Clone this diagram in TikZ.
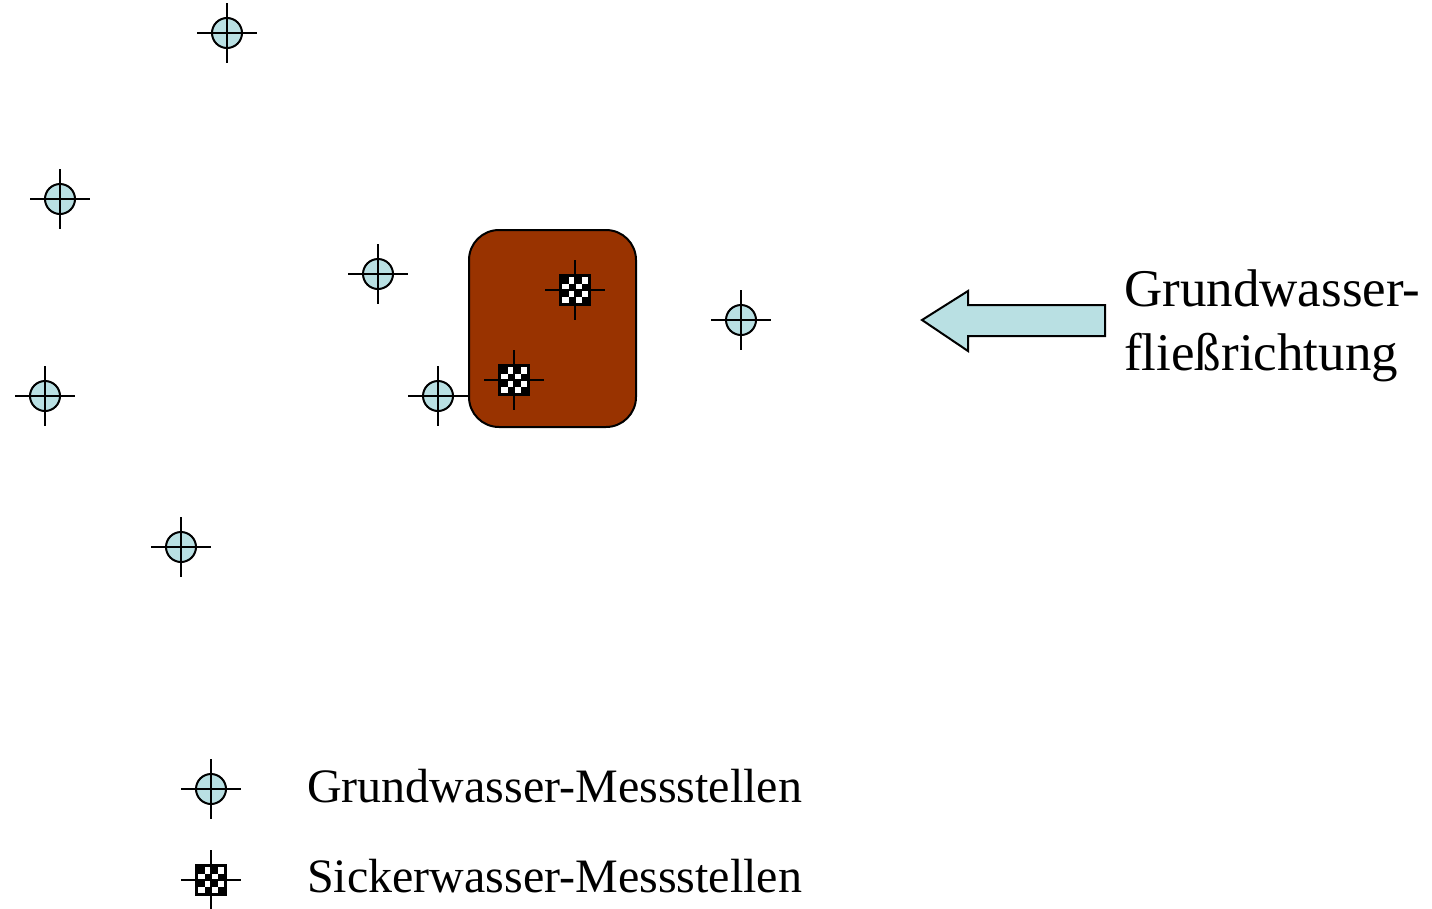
\documentclass[tikz,border=0pt]{standalone}
\usepackage{fontspec}
\setmainfont{Liberation Serif}
\definecolor{hellblau}{HTML}{B9E0E3}
\definecolor{boden}{HTML}{993300}
\tikzset{
  kreuz/.style={black, line width=2pt},
  gwpunkt/.pic={
    \draw[kreuz, fill=hellblau] (0,0) circle (15);
    \draw[kreuz] (-30,0) -- (30,0) (0,-30) -- (0,30);
  },
  swpunkt/.pic={
    \fill[black] (-16,-16) rectangle (16,16);
    \foreach \i in {0,1,2,3} \foreach \j in {0,1,2,3} {
      \pgfmathparse{int(mod(\i+\j,2))}
      \ifnum\pgfmathresult=1
        \fill[white] (-13+\i*6.5,-13+\j*6.5) rectangle ++(6.5,6.5);
      \fi
    }
    \draw[kreuz] (-30,0) -- (30,0) (0,-30) -- (0,30);
  },
  beschriftung/.style={font=\fontsize{48}{64}\selectfont, inner sep=0pt}
}
\begin{document}
\begin{tikzpicture}[x=1pt, y=-1pt]
  \useasboundingbox (0,0) rectangle (1432,908);
  % Versuchsfeld
  \draw[line width=2pt, fill=boden, rounded corners=30] (469,230) rectangle (636,427);
  % Grundwasser-Messstellen
  \foreach \x/\y in {227/33, 60/199, 378/274, 45/396, 438/396, 181/547, 741/320}
    \pic at (\x,\y) {gwpunkt};
  % Sickerwasser-Messstellen
  \pic at (575,290) {swpunkt};
  \pic at (514,380) {swpunkt};
  % Fliessrichtung
  \draw[line width=2pt, fill=hellblau] (922,320) -- (968,291) -- (968,305) -- (1105,305)
    -- (1105,336) -- (968,336) -- (968,351) -- cycle;
  \node[beschriftung, font=\fontsize{53}{64}\selectfont, anchor=base west, align=left]
    (richtung) at (1124,370) {Grundwasser-\\flie\ss richtung};
  % Legende
  \pic at (211,789) {gwpunkt};
  \pic at (211,880) {swpunkt};
  \node[beschriftung, anchor=base west] (leggw) at (307,802) {Grundwasser-Messstellen};
  \node[beschriftung, anchor=base west] (legsw) at (307,892) {Sickerwasser-Messstellen};
\end{tikzpicture}
\end{document}
